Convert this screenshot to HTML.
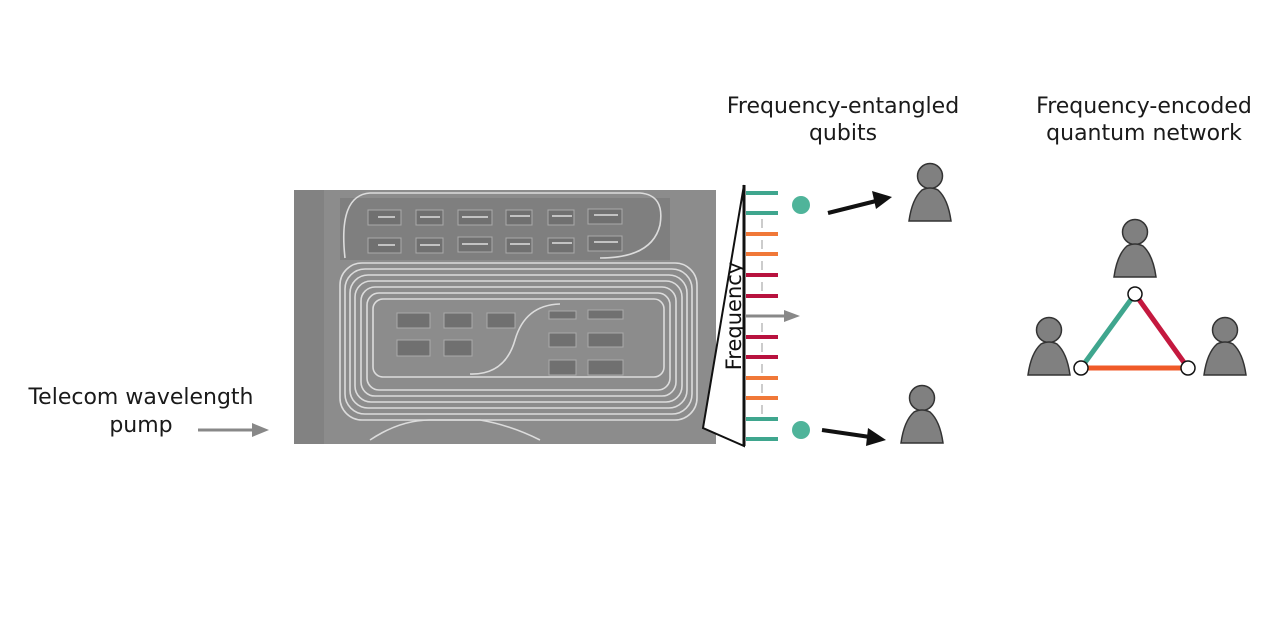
<!DOCTYPE html>
<html><head><meta charset="utf-8"><style>
html,body{margin:0;padding:0;background:#fff;}
body{width:1280px;height:626px;overflow:hidden;font-family:"DejaVu Sans","Liberation Sans",sans-serif;}
</style></head><body>
<svg width="1280" height="626" viewBox="0 0 1280 626" xmlns="http://www.w3.org/2000/svg">
<rect width="1280" height="626" fill="#fff"/>
<!-- chip -->
<rect x="294" y="190" width="422" height="254" fill="#8c8c8c"/>
<rect x="294" y="190" width="30" height="254" fill="#828282"/>
<rect x="340" y="198" width="330" height="62" fill="#7f7f7f"/>
<g fill="#707070" stroke="#aaa" stroke-width="1">
<rect x="368" y="210" width="33" height="15"/><rect x="416" y="210" width="27" height="15"/><rect x="458" y="210" width="34" height="15"/><rect x="506" y="210" width="26" height="15"/><rect x="548" y="210" width="26" height="15"/><rect x="588" y="209" width="34" height="15"/>
<rect x="368" y="238" width="33" height="15"/><rect x="416" y="238" width="27" height="15"/><rect x="458" y="237" width="34" height="15"/><rect x="506" y="238" width="26" height="15"/><rect x="548" y="238" width="26" height="15"/><rect x="588" y="236" width="34" height="15"/>
<rect x="397" y="313" width="33" height="15"/><rect x="444" y="313" width="28" height="15"/><rect x="487" y="313" width="28" height="15"/>
<rect x="397" y="340" width="33" height="16"/><rect x="444" y="340" width="28" height="16"/>
<rect x="549" y="311" width="27" height="8"/><rect x="588" y="310" width="35" height="9"/>
<rect x="549" y="333" width="27" height="14"/><rect x="588" y="333" width="35" height="14"/>
<rect x="549" y="360" width="27" height="15"/><rect x="588" y="360" width="35" height="15"/>
</g>
<g stroke="#ddd" stroke-width="1.5">
<line x1="378" y1="217" x2="395" y2="217"/><line x1="420" y1="217" x2="440" y2="217"/><line x1="462" y1="217" x2="488" y2="217"/><line x1="510" y1="216" x2="530" y2="216"/><line x1="552" y1="216" x2="572" y2="216"/><line x1="594" y1="215" x2="618" y2="215"/>
<line x1="378" y1="245" x2="395" y2="245"/><line x1="420" y1="245" x2="440" y2="245"/><line x1="462" y1="244" x2="488" y2="244"/><line x1="510" y1="244" x2="530" y2="244"/><line x1="552" y1="243" x2="572" y2="243"/><line x1="594" y1="242" x2="618" y2="242"/>
</g>
<g fill="none" stroke="#dcdcdc" stroke-width="1.6">
<path d="M345 258 Q338 195 370 193 L640 193 Q665 195 660 225 Q652 258 600 258"/>
<rect x="340" y="263" width="357" height="157" rx="22"/>
<rect x="345" y="269" width="347" height="145" rx="20"/>
<rect x="350" y="275" width="337" height="133" rx="18"/>
<rect x="355" y="281" width="327" height="121" rx="16"/>
<rect x="361" y="287" width="315" height="109" rx="14"/>
<rect x="367" y="293" width="303" height="97" rx="12"/>
<rect x="373" y="299" width="291" height="78" rx="10"/>
<path d="M470 374 Q505 375 515 340 Q525 305 560 304"/>
<path d="M370 440 Q400 420 430 420 L480 420 Q510 425 540 440"/>
</g>
<!-- triangle / spectrum -->
<polygon points="744,185 744,446 703,428" fill="#fff" stroke="#111" stroke-width="2"/>
<line x1="744" y1="185" x2="744" y2="446" stroke="#111" stroke-width="3"/>
<text x="0" y="0" transform="translate(741,316) rotate(-90)" text-anchor="middle" font-size="21" fill="#111">Frequency</text>
<g stroke-width="4">
<line x1="746" y1="193" x2="778" y2="193" stroke="#3fa68e"/><line x1="746" y1="213" x2="778" y2="213" stroke="#3fa68e"/>
<line x1="746" y1="234" x2="778" y2="234" stroke="#f07838"/><line x1="746" y1="254" x2="778" y2="254" stroke="#f07838"/>
<line x1="746" y1="275" x2="778" y2="275" stroke="#b8123e"/><line x1="746" y1="296" x2="778" y2="296" stroke="#b8123e"/>
<line x1="746" y1="337" x2="778" y2="337" stroke="#b8123e"/><line x1="746" y1="357" x2="778" y2="357" stroke="#b8123e"/>
<line x1="746" y1="378" x2="778" y2="378" stroke="#f07838"/><line x1="746" y1="398" x2="778" y2="398" stroke="#f07838"/>
<line x1="746" y1="419" x2="778" y2="419" stroke="#3fa68e"/><line x1="746" y1="439" x2="778" y2="439" stroke="#3fa68e"/>
</g>
<g stroke="#999" stroke-width="1"><line x1="762" y1="219" x2="762" y2="228"/><line x1="762" y1="240" x2="762" y2="249"/><line x1="762" y1="261" x2="762" y2="270"/><line x1="762" y1="282" x2="762" y2="291"/><line x1="762" y1="323" x2="762" y2="332"/><line x1="762" y1="343" x2="762" y2="352"/><line x1="762" y1="364" x2="762" y2="373"/><line x1="762" y1="384" x2="762" y2="393"/><line x1="762" y1="405" x2="762" y2="414"/></g>
<line x1="746" y1="316" x2="786" y2="316" stroke="#888" stroke-width="3"/>
<polygon points="800,316 784,310 784,322" fill="#888"/>
<!-- dots & arrows -->
<circle cx="801" cy="205" r="9" fill="#4fb49a"/>
<circle cx="801" cy="430" r="9" fill="#4fb49a"/>
<line x1="828" y1="213" x2="876" y2="201" stroke="#111" stroke-width="4"/>
<polygon points="892,197 872,191 876,209" fill="#111"/>
<line x1="822" y1="430" x2="870" y2="437" stroke="#111" stroke-width="4"/>
<polygon points="886,440 868,428 866,446" fill="#111"/>
<!-- pump arrow -->
<line x1="198" y1="430" x2="254" y2="430" stroke="#888" stroke-width="3"/>
<polygon points="269,430 252,423 252,437" fill="#888"/>
<!-- people -->
<defs>
<g id="p"><circle cx="0" cy="-19" r="12.5" fill="#808080" stroke="#333" stroke-width="1.5"/><path d="M-21 26 Q-18 4 -8 -5 Q0 -9 8 -5 Q18 4 21 26 Z" fill="#808080" stroke="#333" stroke-width="1.5"/></g>
</defs>
<use href="#p" x="930" y="195"/>
<use href="#p" x="922" y="417"/>
<use href="#p" x="1135" y="251"/>
<use href="#p" x="1049" y="349"/>
<use href="#p" x="1225" y="349"/>
<!-- network -->
<line x1="1135" y1="294" x2="1081" y2="368" stroke="#3fa68e" stroke-width="5"/>
<line x1="1135" y1="294" x2="1188" y2="368" stroke="#c4193f" stroke-width="5"/>
<line x1="1081" y1="368" x2="1188" y2="368" stroke="#f05a28" stroke-width="5"/>
<circle cx="1135" cy="294" r="7" fill="#fff" stroke="#111" stroke-width="1.5"/>
<circle cx="1081" cy="368" r="7" fill="#fff" stroke="#111" stroke-width="1.5"/>
<circle cx="1188" cy="368" r="7" fill="#fff" stroke="#111" stroke-width="1.5"/>
<!-- text -->
<g font-size="22" fill="#1a1a1a" text-anchor="middle">
<text x="843" y="113">Frequency-entangled</text>
<text x="843" y="140">qubits</text>
<text x="1144" y="113">Frequency-encoded</text>
<text x="1144" y="140">quantum network</text>
<text x="141" y="404">Telecom wavelength</text>
<text x="141" y="432">pump</text>
</g>
</svg>
</body></html>
